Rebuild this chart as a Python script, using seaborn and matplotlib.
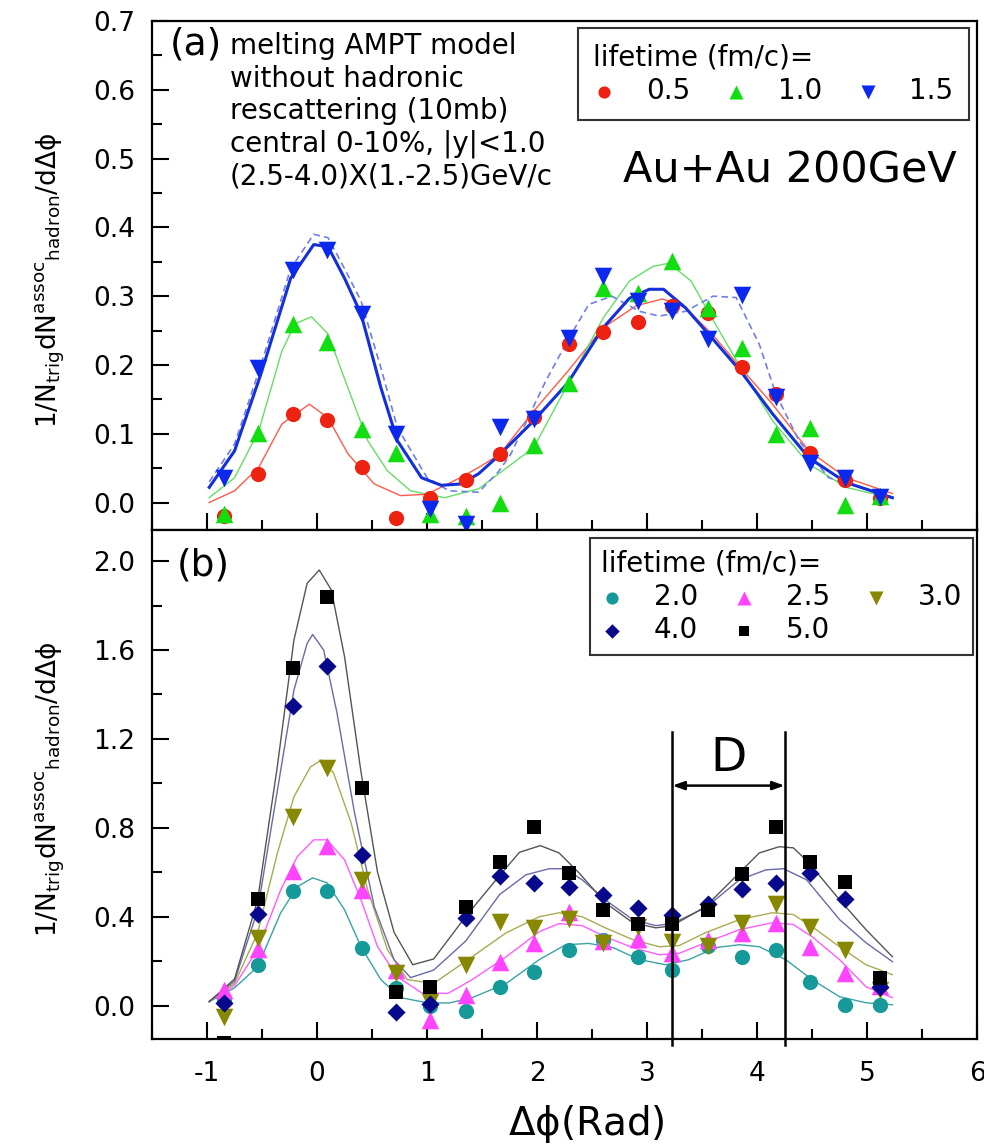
import numpy as np
import matplotlib
matplotlib.use('Agg')
import matplotlib.pyplot as plt
from matplotlib.ticker import MultipleLocator, FormatStrFormatter
import seaborn as sns

# ---------------- data ----------------
dphi = [-0.85, -0.54, -0.22, 0.09, 0.41, 0.72, 1.03, 1.35, 1.66, 1.97,
        2.29, 2.60, 2.92, 3.23, 3.55, 3.86, 4.17, 4.48, 4.80, 5.12]

# panel (a) points
a_labels = ['0.5', '1.0', '1.5']
a_red = [-0.019, 0.042, 0.128, 0.120, 0.052, -0.023, 0.007, 0.033, 0.071, 0.125,
         0.230, 0.248, 0.262, 0.285, 0.276, 0.197, 0.158, 0.072, 0.033, 0.007]
a_green = [-0.017, 0.101, 0.259, 0.233, 0.107, 0.072, -0.017, -0.019, 0.000, 0.084,
           0.174, 0.312, 0.304, 0.351, 0.283, 0.225, 0.100, 0.109, -0.004, 0.010]
a_blue = [0.036, 0.196, 0.338, 0.367, 0.274, 0.100, -0.009, -0.031, 0.110, 0.121,
          0.239, 0.330, 0.293, 0.278, 0.238, 0.301, 0.154, 0.058, 0.035, 0.008]

# panel (a) fit curves
fa_red_x = [-0.98, -0.75, -0.53, -0.32, -0.07, 0.10, 0.28, 0.52, 0.76, 1.00, 1.30, 1.47,
            1.66, 1.97, 2.28, 2.60, 2.90, 3.14, 3.35, 3.59, 3.85, 4.14, 4.47, 4.81, 5.23]
fa_red_y = [0.000, 0.017, 0.051, 0.114, 0.143, 0.123, 0.071, 0.027, 0.010, 0.012, 0.036, 0.051,
            0.070, 0.133, 0.191, 0.254, 0.286, 0.296, 0.283, 0.245, 0.196, 0.143, 0.075, 0.036, 0.013]
fa_green_x = [-0.98, -0.75, -0.53, -0.32, -0.20, -0.05, 0.10, 0.28, 0.46, 0.64, 0.85, 1.16, 1.47,
              1.97, 2.28, 2.60, 2.84, 3.05, 3.20, 3.40, 3.59, 3.85, 4.14, 4.47, 4.81, 5.23]
fa_green_y = [0.007, 0.036, 0.104, 0.220, 0.260, 0.270, 0.245, 0.167, 0.090, 0.046, 0.017, 0.007, 0.020,
              0.080, 0.172, 0.268, 0.322, 0.343, 0.348, 0.322, 0.268, 0.196, 0.119, 0.056, 0.022, 0.006]
fa_blue_x = [-0.98, -0.75, -0.51, -0.24, -0.03, 0.10, 0.25, 0.40, 0.58, 0.73, 0.95, 1.13, 1.31, 1.47,
             1.65, 1.97, 2.28, 2.60, 2.84, 3.02, 3.15, 3.35, 3.59, 3.85, 4.14, 4.47, 4.81, 5.23]
fa_blue_y = [0.022, 0.075, 0.187, 0.326, 0.375, 0.372, 0.326, 0.274, 0.167, 0.090, 0.036, 0.025, 0.027, 0.042,
             0.068, 0.119, 0.174, 0.254, 0.297, 0.310, 0.310, 0.283, 0.239, 0.191, 0.129, 0.065, 0.029, 0.007]
fa_dash_x = [-0.98, -0.75, -0.51, -0.24, -0.03, 0.10, 0.25, 0.40, 0.58, 0.73, 1.00, 1.20, 1.47, 1.65,
             1.76, 2.08, 2.29, 2.47, 2.68, 2.93, 3.11, 3.35, 3.60, 3.81, 4.02, 4.17, 4.38, 4.65, 5.23]
fa_dash_y = [0.030, 0.085, 0.200, 0.340, 0.390, 0.385, 0.340, 0.293, 0.196, 0.109, 0.036, 0.017, 0.015, 0.045,
             0.070, 0.177, 0.239, 0.288, 0.300, 0.278, 0.271, 0.278, 0.300, 0.298, 0.230, 0.158, 0.090, 0.036, 0.007]

# panel (b) points
b_labels = ['2.0', '2.5', '3.0', '4.0', '5.0']
b_teal = [0.020, 0.184, 0.517, 0.517, 0.261, 0.080, 0.000, -0.025, 0.085, 0.153,
          0.252, 0.297, 0.220, 0.162, 0.270, 0.220, 0.252, 0.108, 0.004, 0.004]
b_magenta = [0.072, 0.256, 0.607, 0.719, 0.521, 0.162, -0.063, 0.049, 0.198, 0.283,
             0.420, 0.290, 0.300, 0.238, 0.297, 0.328, 0.373, 0.265, 0.148, 0.090]
b_olive = [-0.049, 0.305, 0.850, 1.070, 0.566, 0.148, 0.018, 0.184, 0.378, 0.350,
           0.391, 0.283, 0.355, 0.288, 0.270, 0.373, 0.458, 0.355, 0.252, 0.070]
b_navy = [0.013, 0.413, 1.348, 1.528, 0.679, -0.027, 0.009, 0.396, 0.584, 0.553,
          0.535, 0.499, 0.440, 0.409, 0.458, 0.526, 0.553, 0.598, 0.481, 0.085]
b_black = [-0.170, 0.480, 1.520, 1.840, 0.980, 0.063, 0.085, 0.445, 0.647, 0.805,
           0.598, 0.431, 0.369, 0.369, 0.431, 0.593, 0.805, 0.647, 0.557, 0.126]

# panel (b) fit curves
fb_black_x = [-0.98, -0.75, -0.54, -0.36, -0.21, -0.09, 0.02, 0.13, 0.25, 0.40, 0.55, 0.70, 0.87, 1.06,
              1.35, 1.65, 1.84, 2.03, 2.20, 2.38, 2.62, 2.87, 3.08, 3.23, 3.53, 3.84, 4.02, 4.20, 4.33,
              4.47, 4.75, 4.99, 5.23]
fb_black_y = [0.018, 0.120, 0.476, 1.080, 1.645, 1.900, 1.960, 1.870, 1.570, 1.050, 0.600, 0.330, 0.184, 0.210,
              0.400, 0.580, 0.690, 0.720, 0.687, 0.598, 0.463, 0.373, 0.350, 0.360, 0.445, 0.598, 0.687, 0.715, 0.710,
              0.643, 0.476, 0.342, 0.220]
fb_navy_x = [-0.98, -0.75, -0.54, -0.36, -0.21, -0.09, -0.04, 0.06, 0.18, 0.34, 0.52, 0.70, 0.85, 1.06,
             1.35, 1.66, 1.90, 2.11, 2.26, 2.41, 2.62, 2.87, 3.08, 3.23, 3.53, 3.84, 4.08, 4.24, 4.45,
             4.75, 4.99, 5.23]
fb_navy_y = [0.018, 0.110, 0.430, 0.970, 1.420, 1.630, 1.670, 1.600, 1.320, 0.870, 0.445, 0.207, 0.126, 0.160,
             0.290, 0.500, 0.589, 0.616, 0.616, 0.566, 0.476, 0.387, 0.360, 0.370, 0.440, 0.566, 0.611, 0.616, 0.566,
             0.387, 0.283, 0.198]
fb_olive_x = [-0.98, -0.75, -0.54, -0.36, -0.21, -0.06, 0.04, 0.15, 0.31, 0.46, 0.64, 0.82, 1.06, 1.41,
              1.72, 2.02, 2.20, 2.41, 2.62, 2.87, 3.11, 3.29, 3.53, 3.84, 4.14, 4.33, 4.50, 4.75, 4.99, 5.23]
fb_olive_y = [0.018, 0.100, 0.328, 0.687, 0.940, 1.074, 1.105, 1.047, 0.822, 0.521, 0.252, 0.117, 0.100, 0.220,
              0.328, 0.400, 0.418, 0.400, 0.350, 0.297, 0.265, 0.270, 0.328, 0.387, 0.418, 0.410, 0.355, 0.265,
              0.184, 0.139]
fb_magenta_x = [-0.98, -0.75, -0.54, -0.33, -0.18, -0.03, 0.09, 0.25, 0.40, 0.55, 0.73, 0.95, 1.19, 1.41,
                1.72, 2.02, 2.20, 2.41, 2.62, 2.87, 3.11, 3.29, 3.53, 3.84, 4.14, 4.33, 4.50, 4.75, 4.99, 5.23]
fb_magenta_y = [0.020, 0.090, 0.252, 0.521, 0.670, 0.746, 0.746, 0.656, 0.476, 0.265, 0.130, 0.058, 0.055, 0.117,
                0.220, 0.333, 0.369, 0.360, 0.310, 0.261, 0.229, 0.235, 0.283, 0.342, 0.373, 0.365, 0.310, 0.207,
                0.085, 0.036]
fb_teal_x = [-0.98, -0.75, -0.54, -0.33, -0.18, -0.04, 0.09, 0.25, 0.40, 0.58, 0.76, 1.00, 1.20, 1.41,
             1.72, 2.02, 2.26, 2.47, 2.69, 2.93, 3.17, 3.38, 3.62, 3.84, 4.02, 4.26, 4.50, 4.75, 4.99, 5.23]
fb_teal_y = [0.018, 0.080, 0.175, 0.418, 0.535, 0.575, 0.553, 0.431, 0.265, 0.117, 0.036, 0.013, 0.012, 0.036,
             0.100, 0.207, 0.274, 0.280, 0.261, 0.207, 0.184, 0.207, 0.261, 0.274, 0.265, 0.207, 0.117, 0.040,
             0.013, 0.004]

# D marker positions
d_left, d_right = 3.23, 4.25

# ---------------- figure ----------------
plt.rcParams['font.family'] = ['DejaVu Sans']
plt.rcParams['axes.unicode_minus'] = False
plt.rcParams['mathtext.fontset'] = 'dejavusans'

fig, (ax1, ax2) = plt.subplots(2, 1, figsize=(9.84, 11.44), dpi=100, sharex=True,
                               gridspec_kw=dict(hspace=0))
fig.subplots_adjust(left=0.1545, right=0.993, top=0.9816, bottom=0.0918)

def fitline(ax, x, y, color, lw, ls='-'):
    sns.lineplot(x=x, y=y, ax=ax, color=color, linewidth=lw, sort=False,
                 estimator=None, legend=False, linestyle=ls, zorder=2)

def pts(ax, y, marker, color, s, label):
    sns.scatterplot(x=dphi, y=y, ax=ax, marker=marker, color=color, s=s,
                    linewidth=0, label=label, zorder=3)

# panel (a)
fitline(ax1, fa_red_x, fa_red_y, '#ff5a4a', 1.0)
fitline(ax1, fa_green_x, fa_green_y, '#66dd66', 1.0)
fitline(ax1, fa_dash_x, fa_dash_y, '#6f7fe8', 1.2, '--')
fitline(ax1, fa_blue_x, fa_blue_y, '#1430d8', 2.2)
ax1.lines[2].set_dashes([4, 2.5])
pts(ax1, a_red, 'o', '#ee2211', 120, a_labels[0])
pts(ax1, a_green, '^', '#11dd11', 160, a_labels[1])
pts(ax1, a_blue, 'v', '#0a28ee', 160, a_labels[2])

# panel (b)
fitline(ax2, fb_teal_x, fb_teal_y, '#3aa3a3', 1.0)
fitline(ax2, fb_magenta_x, fb_magenta_y, '#ff5cff', 1.0)
fitline(ax2, fb_olive_x, fb_olive_y, '#aaaa50', 1.0)
fitline(ax2, fb_navy_x, fb_navy_y, '#6a6aaa', 1.0)
fitline(ax2, fb_black_x, fb_black_y, '#555555', 1.0)
pts(ax2, b_teal, 'o', '#159999', 120, b_labels[0])
pts(ax2, b_magenta, '^', '#ff44ff', 160, b_labels[1])
pts(ax2, b_olive, 'v', '#888800', 160, b_labels[2])
pts(ax2, b_navy, 'D', '#08088c', 85, b_labels[3])
pts(ax2, b_black, 's', '#000000', 90, b_labels[4])

ylab = r'$\mathregular{1/N_{trig}dN^{assoc}{}_{hadron}/d\Delta\phi}$'

# axes formatting
for ax in (ax1, ax2):
    for sp in ax.spines.values():
        sp.set_linewidth(1.6)
        sp.set_color('black')
    ax.set_xlim(-1.5, 6)
    ax.xaxis.set_major_locator(MultipleLocator(1))
    ax.xaxis.set_minor_locator(MultipleLocator(0.5))
    ax.tick_params(which='major', direction='in', length=12, width=1.5, labelsize=19, pad=12)
    ax.tick_params(which='minor', direction='in', length=7, width=1.5)
    ax.set_xlabel('')
    ax.set_ylabel(ylab, fontsize=19)
    ax.yaxis.set_label_coords(-0.103, 0.49)
    ax.yaxis.set_major_formatter(FormatStrFormatter('%.1f'))

ax1.set_ylim(-0.04, 0.7)
ax1.yaxis.set_major_locator(MultipleLocator(0.1))
ax1.yaxis.set_minor_locator(MultipleLocator(0.05))
ax1.tick_params(labelbottom=False)

ax2.set_ylim(-0.15, 2.14)
ax2.yaxis.set_major_locator(MultipleLocator(0.4))
ax2.yaxis.set_minor_locator(MultipleLocator(0.2))
ax2.xaxis.set_major_formatter(FormatStrFormatter('%d'))
ax2.tick_params(axis='x', which='major', pad=16)
ax2.set_xlabel(r'$\mathregular{\Delta\phi}$(Rad)', fontsize=28)
ax2.xaxis.set_label_coords(0.526, -0.125)

# texts
ax1.text(0.0218, 0.953, '(a)', transform=ax1.transAxes, fontsize=27, ha='left', va='center')
ax1.text(0.0945, 0.978,
         'melting AMPT model\nwithout hadronic\nrescattering (10mb)\ncentral 0-10%, |y|<1.0\n(2.5-4.0)X(1.-2.5)GeV/c',
         transform=ax1.transAxes, fontsize=20, ha='left', va='top', linespacing=1.2)
ax1.text(0.571, 0.682, 'Au+Au 200GeV', transform=ax1.transAxes, fontsize=31,
         ha='left', va='baseline')
ax2.text(0.0303, 0.931, '(b)', transform=ax2.transAxes, fontsize=27, ha='left', va='center')

# D annotation
for xv in (d_left, d_right):
    ax2.plot([xv, xv], [1.23, -0.175], color='black', lw=1.8, clip_on=False, zorder=4)
ax2.annotate('', xy=(d_left, 0.99), xytext=(d_right, 0.99),
             arrowprops=dict(arrowstyle='<|-|>,head_length=0.7,head_width=0.25',
                             color='black', lw=1.8, shrinkA=0, shrinkB=0))
ax2.text((d_left + d_right) / 2, 1.11, 'D', fontsize=34, ha='center', va='center')

# legends
h1, l1 = ax1.get_legend_handles_labels()
leg1 = ax1.legend(h1, l1, title='lifetime (fm/c)=', ncol=3, loc='upper right',
                  bbox_to_anchor=(0.990, 0.986), borderaxespad=0, fontsize=20,
                  title_fontsize=20, frameon=True, fancybox=False, edgecolor='#333333',
                  framealpha=1, handlelength=0.8, handletextpad=1.1, columnspacing=1.25,
                  borderpad=0.55, labelspacing=0.2, alignment='left', markerscale=0.8)
leg1.get_frame().set_linewidth(1.5)

h2, l2 = ax2.get_legend_handles_labels()
order = [0, 3, 1, 4, 2]
leg2 = ax2.legend([h2[i] for i in order], [l2[i] for i in order], title='lifetime (fm/c)=',
                  ncol=3, loc='upper right', bbox_to_anchor=(0.995, 0.984), borderaxespad=0,
                  fontsize=20, title_fontsize=20, frameon=True, fancybox=False,
                  edgecolor='#333333', framealpha=1, handlelength=0.8, handletextpad=1.1,
                  columnspacing=1.25, borderpad=0.4, labelspacing=0.2, alignment='left',
                  markerscale=0.8)
leg2.get_frame().set_linewidth(1.5)

fig.savefig('out.png', dpi=100)
